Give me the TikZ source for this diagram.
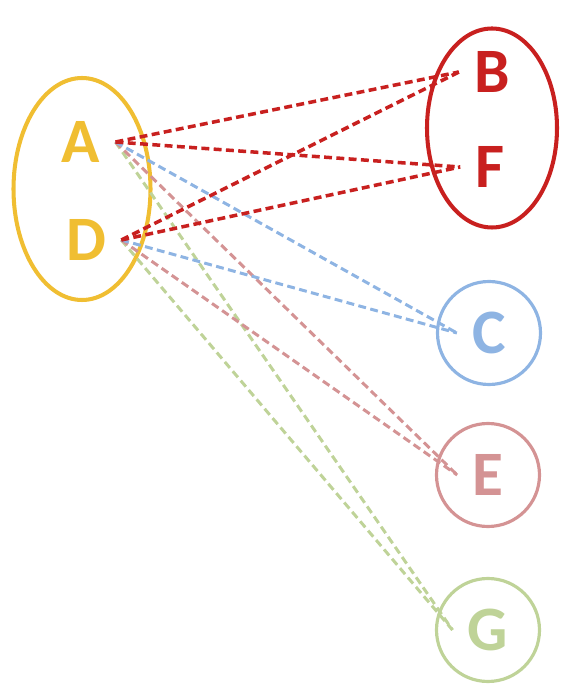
\documentclass[tikz,border=0pt]{standalone}
\usepackage{fontspec}
\setmainfont{Carlito}
\usetikzlibrary{
  shapes.geometric
}
\definecolor{setGold}{HTML}{F0BE32}
\definecolor{setRed}{HTML}{C8201F}
\definecolor{setBlue}{HTML}{8EB4E3}
\definecolor{setPink}{HTML}{D49394}
\definecolor{setGreen}{HTML}{BFD398}
\tikzset{
  groupOval/.style={draw, ellipse, line width=2.3pt, inner sep=0pt},
  singleRing/.style={draw, circle, line width=1.8pt, minimum size=2.06cm, inner sep=0pt},
  leftLetter/.style={font=\fontsize{36}{40}\selectfont\bfseries, inner sep=0.3cm},
  rightLetter/.style={font=\fontsize{36}{40}\selectfont\bfseries, inner sep=0.3cm},
  linkEdge/.style={line width=1.7pt, dash pattern=on 4.5pt off 2.5pt}
}

\begin{document}
\begin{tikzpicture}[x=1cm,y=1cm]
  \useasboundingbox (0,0) rectangle (11.34,13.68);

  % outlines
  \node[groupOval, setGold, minimum width=2.74cm, minimum height=4.44cm] (ovalAD) at (1.64,9.90) {};
  \node[groupOval, setRed, minimum width=2.6cm, minimum height=3.98cm] (ovalBF) at (9.84,11.12) {};
  \node[singleRing, setBlue]  (ringC) at (9.78,7.02) {};
  \node[singleRing, setPink]  (ringE) at (9.76,4.18) {};
  \node[singleRing, setGreen] (ringG) at (9.76,1.08) {};

  % letters
  \node[leftLetter, setGold] (A) at (1.62,10.84) {A};
  \node[leftLetter, setGold] (D) at (1.72,8.88)  {D};
  \node[rightLetter, setRed]   (B) at (9.84,12.24) {B};
  \node[rightLetter, setRed]   (F) at (9.80,10.34) {F};
  \node[rightLetter, setBlue]  (C) at (9.78,7.02)  {C};
  \node[rightLetter, setPink]  (E) at (9.76,4.18)  {E};
  \node[rightLetter, setGreen] (G) at (9.76,1.08)  {G};

  \draw[linkEdge, setGreen] (A.east) -- (G.west);
  \draw[linkEdge, setGreen] (D.east) -- (G.west);
  \draw[linkEdge, setPink] (A.east) -- (E.west);
  \draw[linkEdge, setPink] (D.east) -- (E.west);
  \draw[linkEdge, setBlue] (A.east) -- (C.west);
  \draw[linkEdge, setBlue] (D.east) -- (C.west);
  \draw[linkEdge, setRed, line width=2pt] (A.east) -- (B.west);
  \draw[linkEdge, setRed, line width=2pt] (A.east) -- (F.west);
  \draw[linkEdge, setRed, line width=2pt] (D.east) -- (B.west);
  \draw[linkEdge, setRed, line width=2pt] (D.east) -- (F.west);
\end{tikzpicture}
\end{document}
